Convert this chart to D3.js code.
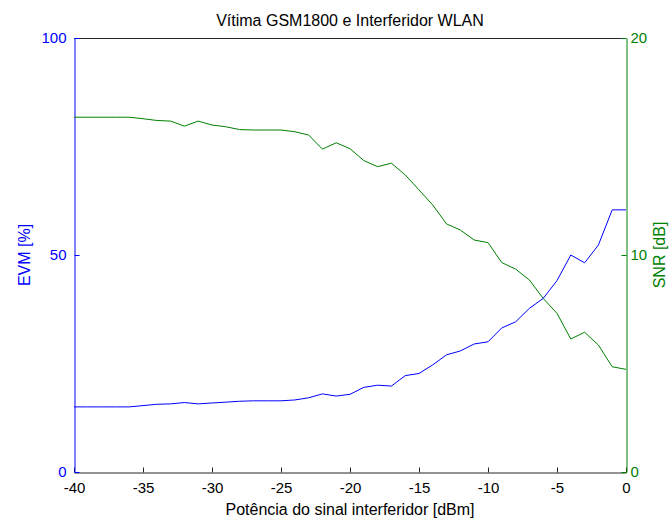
<!DOCTYPE html>
<html>
<head>
<meta charset="utf-8">
<script src="https://cdn.jsdelivr.net/npm/d3@7"></script>
<style>
  html, body { margin: 0; padding: 0; background: #fff; }
  svg text { font-family: "Liberation Sans", Arial, Helvetica, sans-serif; }
</style>
</head>
<body>
<svg id="chart" width="669" height="521"></svg>
<script>
// ---- data ----
const interfererPower = [-40,-39,-38,-37,-36,-35,-34,-33,-32,-31,-30,-29,-28,-27,-26,-25,-24,-23,-22,-21,-20,
                         -19,-18,-17,-16,-15,-14,-13,-12,-11,-10,-9,-8,-7,-6,-5,-4,-3,-2,-1,0];
const evmValues = [15.0,15.0,15.0,15.0,15.0,15.3,15.6,15.7,16.0,15.7,15.9,16.1,16.3,16.4,16.4,16.4,16.6,17.1,18.0,17.5,17.9,
                   19.5,20.0,19.8,22.2,22.7,24.7,27.0,27.9,29.5,30.0,33.2,34.6,37.7,40.0,44.1,50.0,48.2,52.3,60.4,60.4];
const snrValues = [16.35,16.35,16.35,16.35,16.35,16.28,16.2,16.17,15.94,16.17,15.99,15.91,15.78,15.76,15.76,15.76,15.68,15.53,14.88,15.17,14.9,
                   14.35,14.07,14.23,13.69,13.0,12.3,11.43,11.15,10.69,10.57,9.65,9.35,8.85,8.0,7.31,6.13,6.44,5.85,4.85,4.73];
const xTicks = [-40,-35,-30,-25,-20,-15,-10,-5,0];
const evmTicks = [0,50,100];
const snrTicks = [0,10,20];
const titleText = "Vítima GSM1800 e Interferidor WLAN";
const xLabel = "Potência do sinal interferidor [dBm]";
const yLeftLabel = "EVM [%]";
const yRightLabel = "SNR [dB]";

// ---- layout ----
const mLeft = 74, mRight = 626, mTop = 38, mBottom = 472;
const blue = "#0000ff", green = "#008000", black = "#262626";
const tickFont = "15px";
const labelFont = "16px";
const fmt = d => String(d);   // plain hyphen-minus, as in the reference

const svg = d3.select("#chart");
const x = d3.scaleLinear().domain([-40, 0]).range([mLeft, mRight]);
const yL = d3.scaleLinear().domain([0, 100]).range([mBottom, mTop]);
const yR = d3.scaleLinear().domain([0, 20]).range([mBottom, mTop]);

// top border
svg.append("line").attr("x1", mLeft).attr("x2", mRight).attr("y1", mTop + 0.5).attr("y2", mTop + 0.5)
  .attr("stroke", black).attr("stroke-width", 1);

// bottom axis
const gx = svg.append("g").attr("transform", `translate(0,${mBottom + 0.5})`)
  .call(d3.axisBottom(x).tickValues(xTicks).tickSizeInner(-5).tickSizeOuter(0).tickPadding(10).tickFormat(fmt));
gx.select(".domain").attr("stroke", black);
gx.selectAll(".tick line").attr("stroke", black);
gx.selectAll("text").attr("fill", "#000").style("font-size", tickFont);

// left axis
const gl = svg.append("g").attr("transform", `translate(${mLeft + 0.5},0)`)
  .call(d3.axisLeft(yL).tickValues(evmTicks).tickSizeInner(-5).tickSizeOuter(0).tickPadding(8).tickFormat(fmt));
gl.select(".domain").attr("stroke", blue);
gl.selectAll(".tick line").attr("stroke", blue);
gl.selectAll("text").attr("fill", blue).style("font-size", tickFont);

// right axis
const gr = svg.append("g").attr("transform", `translate(${mRight + 0.5},0)`)
  .call(d3.axisRight(yR).tickValues(snrTicks).tickSizeInner(-5).tickSizeOuter(0).tickPadding(4).tickFormat(fmt));
gr.select(".domain").attr("stroke", green);
gr.selectAll(".tick line").attr("stroke", green);
gr.selectAll("text").attr("fill", green).style("font-size", tickFont);

// lines
const evmLine = d3.line().x((d, i) => x(interfererPower[i])).y(d => yL(d));
const snrLine = d3.line().x((d, i) => x(interfererPower[i])).y(d => yR(d));
svg.append("path").datum(snrValues).attr("d", snrLine).attr("fill", "none").attr("stroke", green).attr("stroke-width", 1);
svg.append("path").datum(evmValues).attr("d", evmLine).attr("fill", "none").attr("stroke", blue).attr("stroke-width", 1);

// titles
svg.append("text").attr("x", (mLeft + mRight) / 2).attr("y", 26).attr("text-anchor", "middle")
  .style("font-size", labelFont).attr("fill", "#000").text(titleText);
svg.append("text").attr("x", (mLeft + mRight) / 2).attr("y", 515).attr("text-anchor", "middle")
  .style("font-size", labelFont).attr("fill", "#000").text(xLabel);
svg.append("text").attr("transform", `translate(30,${(mTop + mBottom) / 2}) rotate(-90)`).attr("text-anchor", "middle")
  .style("font-size", labelFont).attr("fill", blue).text(yLeftLabel);
svg.append("text").attr("transform", `translate(665,${(mTop + mBottom) / 2}) rotate(-90)`).attr("text-anchor", "middle")
  .style("font-size", labelFont).attr("fill", green).text(yRightLabel);
</script>
</body>
</html>
